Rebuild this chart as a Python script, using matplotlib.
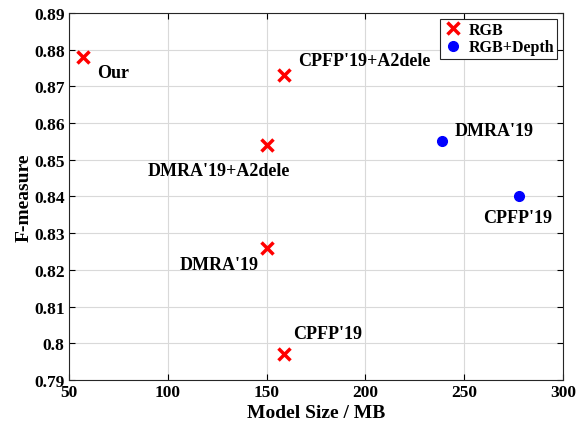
import matplotlib.pyplot as plt

plt.rcParams['font.family'] = ['Liberation Serif', 'DejaVu Serif']
plt.rcParams['font.weight'] = 'bold'

# RGB methods
rgb_names = ["Our", "CPFP'19+A2dele", "DMRA'19+A2dele", "DMRA'19", "CPFP'19"]
rgb_size = [57, 159, 150, 150, 159]
rgb_f = [0.878, 0.873, 0.854, 0.826, 0.797]

# RGB+Depth methods
rgbd_names = ["DMRA'19", "CPFP'19"]
rgbd_size = [239, 278]
rgbd_f = [0.855, 0.840]

# label offsets in points (dx, dy, ha)
rgb_offsets = [(10, -11, 'left'), (10, 11, 'left'), (-34, -18, 'center'),
               (-6, -12, 'right'), (6, 15, 'left')]
rgbd_offsets = [(9, 8, 'left'), (-1, -15, 'center')]

fig = plt.figure(figsize=(5.84, 4.27), dpi=100)
ax = fig.add_axes([0.118, 0.108, 0.846, 0.859])

ax.plot(rgb_size, rgb_f, 'x', color='red', markersize=8, mew=2.5, label='RGB', linestyle='none')
ax.plot(rgbd_size, rgbd_f, 'o', color='blue', markersize=7, label='RGB+Depth', linestyle='none')

for name, x, y, (dx, dy, ha) in zip(rgb_names, rgb_size, rgb_f, rgb_offsets):
    ax.annotate(name, (x, y), xytext=(dx, dy), textcoords='offset points',
                ha=ha, va='center', fontsize=13, fontweight='bold')
for name, x, y, (dx, dy, ha) in zip(rgbd_names, rgbd_size, rgbd_f, rgbd_offsets):
    ax.annotate(name, (x, y), xytext=(dx, dy), textcoords='offset points',
                ha=ha, va='center', fontsize=13, fontweight='bold')

ax.set_xlim(50, 300)
ax.set_ylim(0.79, 0.89)
ax.set_xticks(range(50, 301, 50))
ax.set_yticks([0.79, 0.80, 0.81, 0.82, 0.83, 0.84, 0.85, 0.86, 0.87, 0.88, 0.89])
ax.set_yticklabels(['0.79', '0.8', '0.81', '0.82', '0.83', '0.84', '0.85', '0.86', '0.87', '0.88', '0.89'])
ax.grid(True, color='#d9d9d9', linewidth=0.8)
ax.set_axisbelow(True)
ax.tick_params(direction='in', top=True, right=True, labelsize=12.5, width=0.8, length=4, pad=3)
for lab in ax.get_xticklabels() + ax.get_yticklabels():
    lab.set_fontweight('bold')
for sp in ax.spines.values():
    sp.set_color('#262626')
    sp.set_linewidth(0.8)

ax.set_xlabel('Model Size / MB', fontsize=14, fontweight='bold', labelpad=3)
ax.set_ylabel('F-measure', fontsize=14, fontweight='bold', labelpad=1)

leg = ax.legend(loc='upper right', fontsize=11.5, fancybox=False, framealpha=1,
                edgecolor='#262626', handletextpad=0.4, borderaxespad=0.35,
                handlelength=1.2, borderpad=0.2, labelspacing=0.1)
leg.get_frame().set_linewidth(0.8)
for t in leg.get_texts():
    t.set_fontweight('bold')

fig.savefig('out.png', dpi=100)
